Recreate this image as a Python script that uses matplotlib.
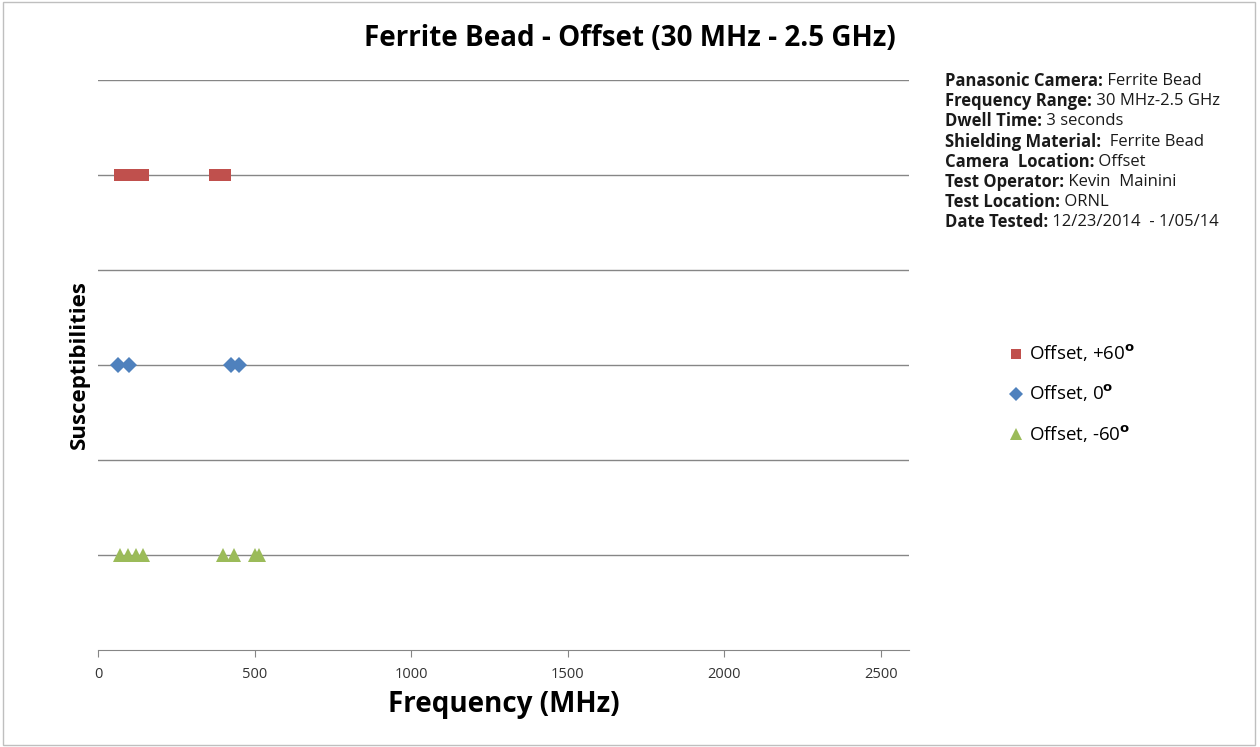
import matplotlib
matplotlib.use('Agg')
import matplotlib.pyplot as plt
from matplotlib.lines import Line2D
from matplotlib.patches import Rectangle

plt.rcParams['font.family'] = ['Open Sans', 'DejaVu Sans']
plt.rcParams['mathtext.fontset'] = 'dejavusans'

# Data (frequency in MHz where a susceptibility was seen)
plus60_freq = [70, 95, 125, 145, 375, 405]
zero_freq = [65, 100, 425, 450]
minus60_freq = [70, 95, 120, 145, 400, 435, 500, 515]
series_labels = [r'Offset, +60$^{\mathbf{o}}$', r'Offset, 0$^{\mathbf{o}}$',
                 r'Offset, -60$^{\mathbf{o}}$']
series_levels = [5, 3, 1]
xticks = [0, 500, 1000, 1500, 2000, 2500]

info_lines = [
    ('Panasonic Camera:', ' Ferrite Bead'),
    ('Frequency Range:', ' 30 MHz-2.5 GHz'),
    ('Dwell Time:', ' 3 seconds'),
    ('Shielding Material:', '  Ferrite Bead'),
    ('Camera  Location:', ' Offset'),
    ('Test Operator:', ' Kevin  Mainini'),
    ('Test Location:', ' ORNL'),
    ('Date Tested:', ' 12/23/2014  - 1/05/14'),
]

colors = ['#C0504D', '#4F81BD', '#9BBB59']
markers = ['s', 'D', '^']
sizes = [9, 8, 10]

fig = plt.figure(figsize=(12.6, 7.47), dpi=100)
ax = fig.add_axes([98/1260, 1-650/747, (909-98)/1260, (650-80)/747])

for freqs, lvl, c, m, s in zip([plus60_freq, zero_freq, minus60_freq],
                               series_levels, colors, markers, sizes):
    ax.plot(freqs, [lvl]*len(freqs), linestyle='none', marker=m,
            color=c, markersize=s, markeredgewidth=0, zorder=3)

ax.set_xlim(0, 2590)
ax.set_ylim(0, 6)
ax.set_yticks(range(1, 7))
ax.yaxis.grid(True, color='#868686', linewidth=1)
ax.set_axisbelow(True)
ax.tick_params(axis='y', left=False, labelleft=False)
ax.set_xticks(xticks)
ax.tick_params(axis='x', colors='#868686', labelcolor='#333333',
               labelsize=10.5, length=5, direction='out', pad=7)
for side in ['top', 'right', 'left']:
    ax.spines[side].set_visible(False)
ax.spines['bottom'].set_color('#868686')

ax.set_xlabel('Frequency (MHz)', fontsize=20, fontweight='bold', labelpad=6)
ax.set_ylabel('Susceptibilities', fontsize=16, fontweight='bold', labelpad=6)
fig.text(0.5, 1-38/747, 'Ferrite Bead - Offset (30 MHz - 2.5 GHz)',
         ha='center', va='center', fontsize=20, fontweight='bold')

# info block: bold label followed by regular value
fig.canvas.draw()
renderer = fig.canvas.get_renderer()
x0 = 945/1260
for i, (lab, val) in enumerate(info_lines):
    y = 1 - (81 + i*20.2)/747
    t = fig.text(x0, y, lab, fontsize=12, fontweight='bold',
                 ha='left', va='center', color='#1a1a1a')
    bb = t.get_window_extent(renderer)
    fig.text(bb.x1/1260, y, val, fontsize=12, ha='left', va='center',
             color='#1a1a1a')

# legend
handles = [Line2D([], [], linestyle='none', marker=m, color=c,
                  markersize=s*0.85, markeredgewidth=0)
           for c, m, s in zip(colors, markers, sizes)]
leg = fig.legend(handles, series_labels, loc='upper left',
                 bbox_to_anchor=(993/1260, 1-326/747), frameon=False,
                 fontsize=13.5, handlelength=0.6, handletextpad=0.4,
                 labelspacing=1.0)

# outer border
fig.patches.append(Rectangle((0.002, 0.003), 0.994, 0.994,
                             transform=fig.transFigure, fill=False,
                             edgecolor='#bfbfbf', linewidth=1))

fig.savefig('out.png', dpi=100)
